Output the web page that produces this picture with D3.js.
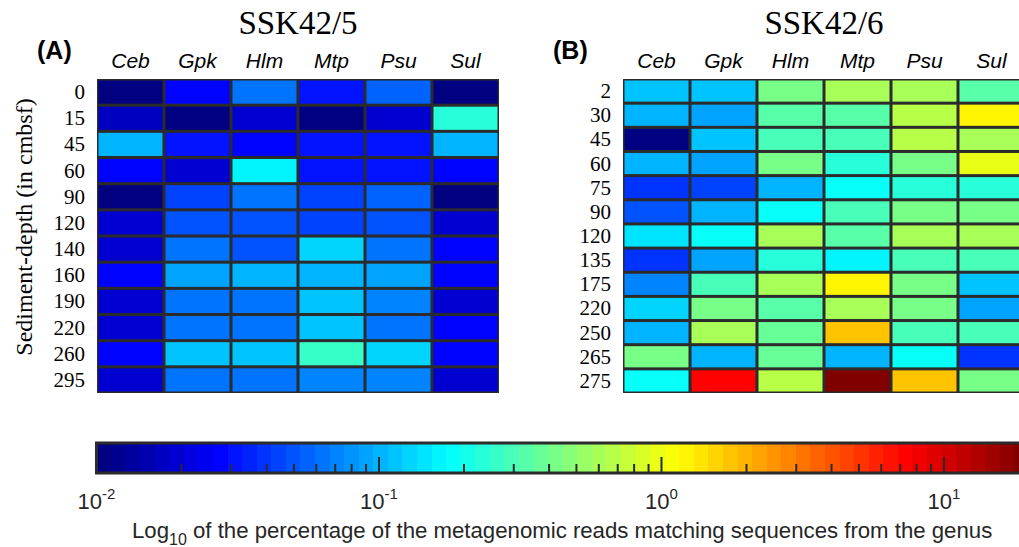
<!DOCTYPE html>
<html><head><meta charset="utf-8">
<script src="https://cdn.jsdelivr.net/npm/d3@7"></script>
<style>body{margin:0;background:#fff;overflow:hidden}svg{display:block}</style>
</head><body>
<svg id="c" width="1019" height="547"></svg>
<script>
const genera = ["Ceb","Gpk","Hlm","Mtp","Psu","Sul"];
const depthsA = ["0","15","45","60","90","120","140","160","190","220","260","295"];
const depthsB = ["2","30","45","60","75","90","120","135","175","220","250","265","275"];
// percentage of metagenomic reads (rows = depth, columns = genera)
const valuesA = [
  [0.008,0.028,0.060,0.031,0.053,0.008],
  [0.0177,0.008,0.0184,0.008,0.0198,0.226],
  [0.0955,0.030,0.029,0.031,0.030,0.0955],
  [0.028,0.0198,0.166,0.030,0.030,0.029],
  [0.008,0.042,0.060,0.042,0.053,0.008],
  [0.0198,0.049,0.049,0.046,0.049,0.0184],
  [0.0184,0.060,0.049,0.129,0.060,0.027],
  [0.027,0.085,0.0955,0.0955,0.091,0.027],
  [0.0184,0.060,0.060,0.108,0.067,0.0184],
  [0.0184,0.062,0.062,0.108,0.062,0.027],
  [0.027,0.114,0.114,0.278,0.123,0.027],
  [0.0184,0.062,0.062,0.067,0.067,0.0184]
];
const valuesB = [
  [0.108,0.108,0.399,0.570,0.570,0.330],
  [0.0955,0.085,0.330,0.343,0.640,1.16],
  [0.008,0.108,0.306,0.294,0.640,0.606],
  [0.1016,0.085,0.447,0.221,0.414,0.957],
  [0.039,0.046,0.0955,0.180,0.243,0.221],
  [0.049,0.0955,0.180,0.306,0.447,0.414],
  [0.145,0.173,0.606,0.343,0.606,0.606],
  [0.039,0.085,0.221,0.169,0.306,0.306],
  [0.067,0.306,0.606,1.22,0.447,0.114],
  [0.129,0.399,0.343,0.606,0.399,0.091],
  [0.0955,0.570,0.370,1.76,0.283,0.306],
  [0.399,0.1016,0.370,0.0955,0.173,0.039],
  [0.173,7.73,0.640,20,1.76,0.414]
];
const panelTitles = ["SSK42/5","SSK42/6"];
const panelTags = ["(A)","(B)"];
const cbTicks = [0.01,0.1,1,10];
const cbExp = ["-2","-1","0","1"];

const svg = d3.select("#c");
const vmin = 0.01, vmax = 20;
const tScale = d3.scaleLog().domain([vmin,vmax]).range([0,1]).clamp(true);
function jet(t){
  const c = v => Math.max(0,Math.min(1,v));
  return d3.rgb(255*c(1.5-Math.abs(4*t-3)),255*c(1.5-Math.abs(4*t-2)),255*c(1.5-Math.abs(4*t-1)));
}
function colorOf(v){
  const idx = Math.min(63, Math.floor(tScale(v)*64));
  return jet(idx/63).toString();
}
const serif = "'Liberation Serif','DejaVu Serif',serif";
const sans = "'Liberation Sans',Arial,sans-serif";
const gridColor = "#2b2b2b";

function panel(x0, rowLabels, values, title, tag, tagX){
  const x = d3.scaleBand().domain(genera).range([x0, x0+67*6]);
  const y = d3.scaleBand().domain(rowLabels).range([79, 393]);
  const g = svg.append("g");
  g.append("rect").attr("x",x0).attr("y",79).attr("width",67*6).attr("height",314)
    .attr("fill",gridColor);
  rowLabels.forEach((r,i)=>{
    genera.forEach((c,j)=>{
      g.append("rect").attr("x",x(c)+1.5).attr("y",y(r)+1.5)
        .attr("width",x.bandwidth()-3).attr("height",y.bandwidth()-3)
        .attr("fill",colorOf(values[i][j]));
    });
  });
  g.selectAll("text.col").data(genera).enter().append("text")
    .attr("x",d=>x(d)+x.bandwidth()/2).attr("y",68).attr("text-anchor","middle")
    .attr("font-family",sans).attr("font-style","italic").attr("font-size",21).attr("fill","#000")
    .text(d=>d);
  g.selectAll("text.row").data(rowLabels).enter().append("text")
    .attr("x",x0-12).attr("y",d=>y(d)+y.bandwidth()/2+7).attr("text-anchor","end")
    .attr("font-family",serif).attr("font-size",21).attr("fill","#000").text(d=>d);
  g.append("text").attr("x",x0+67*3).attr("y",34).attr("text-anchor","middle")
    .attr("font-family",serif).attr("font-size",33).attr("fill","#000").text(title);
  g.append("text").attr("x",tagX).attr("y",59)
    .attr("font-family",sans).attr("font-weight","bold").attr("font-size",25).attr("fill","#000").text(tag);
}
panel(97, depthsA, valuesA, panelTitles[0], panelTags[0], 37);
panel(623, depthsB, valuesB, panelTitles[1], panelTags[1], 553);

svg.append("text").attr("transform","translate(32,227) rotate(-90)").attr("text-anchor","middle")
  .attr("font-family",serif).attr("font-size",24).attr("fill","#000").text("Sediment-depth (in cmbsf)");

// colorbar
const cx = d3.scaleLog().domain([vmin,vmax]).range([96.5,1029]);
const cb = svg.append("g");
const N = 64;
const lmin = Math.log10(vmin), lmax = Math.log10(vmax);
d3.range(N).forEach(i=>{
  const a = Math.pow(10, lmin+(lmax-lmin)*i/N), b = Math.pow(10, lmin+(lmax-lmin)*(i+1)/N);
  cb.append("rect").attr("x",cx(a)).attr("y",443).attr("width",cx(b)-cx(a)+1).attr("height",30)
    .attr("fill",jet(i/(N-1)).toString()).attr("shape-rendering","crispEdges");
});
cb.append("rect").attr("x",96.5).attr("y",443).attr("width",1029-96.5).attr("height",30)
  .attr("fill","none").attr("stroke",gridColor).attr("stroke-width",3);
const minor = [];
[0.01,0.1,1,10].forEach(d=>{ for(let k=2;k<=9;k++){ if(d*k<=vmax) minor.push(d*k);} });
cb.selectAll("line.mi").data(minor).enter().append("line")
  .attr("x1",d=>cx(d)).attr("x2",d=>cx(d)).attr("y1",473).attr("y2",464)
  .attr("stroke",gridColor).attr("stroke-width",2);
cb.selectAll("line.ma").data(cbTicks.slice(1)).enter().append("line")
  .attr("x1",d=>cx(d)).attr("x2",d=>cx(d)).attr("y1",473).attr("y2",457)
  .attr("stroke",gridColor).attr("stroke-width",2);
cbTicks.forEach((d,i)=>{
  const t = cb.append("text").attr("x",cx(d)).attr("y",509).attr("text-anchor","middle")
    .attr("font-family",sans).attr("font-size",22).attr("fill","#262626");
  t.append("tspan").text("10");
  t.append("tspan").attr("font-size",15).attr("dy",-10).text(cbExp[i]);
});
const lab = svg.append("text").attr("x",132).attr("y",538)
  .attr("font-family",sans).attr("font-size",22.2).attr("fill","#262626");
lab.append("tspan").text("Log");
lab.append("tspan").attr("font-size",16).attr("dy",7).text("10");
lab.append("tspan").attr("dy",-7).text(" of the percentage of the metagenomic reads matching sequences from the genus");
</script>
</body></html>
